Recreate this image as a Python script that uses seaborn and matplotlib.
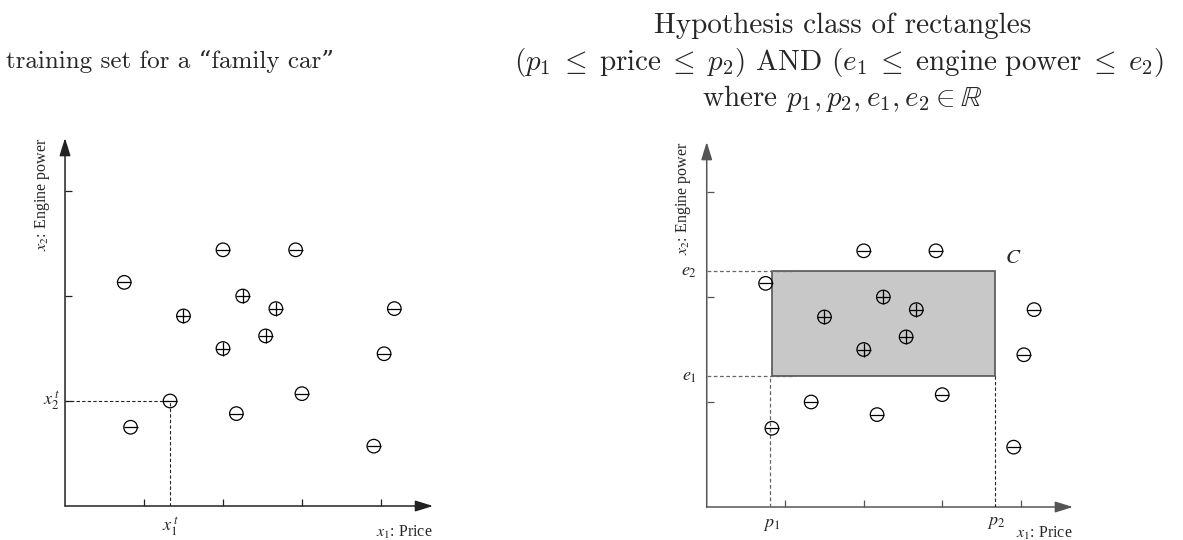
import matplotlib
matplotlib.use("Agg")
import matplotlib.pyplot as plt
from matplotlib.patches import Rectangle
import seaborn as sns

# Training instances (x1 = price, x2 = engine power), in tick units
neg_x = [2.00, 2.92, 0.75, 4.17, 4.04, 3.00, 1.33, 2.17, 0.83, 3.91]
neg_y = [2.44, 2.44, 2.13, 1.88, 1.45, 1.07, 1.00, 0.88, 0.75, 0.57]
pos_x = [1.50, 2.25, 2.67, 2.54, 2.00]
pos_y = [1.81, 2.00, 1.88, 1.62, 1.50]

# Highlighted instance (x1^t, x2^t)
inst_x, inst_y = 1.33, 1.00

# Hypothesis rectangle C
p1, p2 = 0.83, 3.67
e1, e2 = 1.245, 2.245

axis_ticks = [1, 2, 3, 4]
y_ticks = [1, 2, 3]

sns.set_theme(style="white")
plt.rcParams["font.family"] = ["Liberation Serif", "DejaVu Serif"]

fig = plt.figure(figsize=(11.83, 5.40), dpi=100)
ax_l = fig.add_axes([0.05495, 0.06296, 0.3111, 0.6815])
ax_r = fig.add_axes([0.5974, 0.0611, 0.3096, 0.6759])


def setup_axes(ax, xmax, ymax, color):
    ax.set_xlim(0, xmax)
    ax.set_ylim(0, ymax)
    for s in ax.spines.values():
        s.set_visible(False)
    ax.set_xticks(axis_ticks)
    ax.set_yticks(y_ticks)
    ax.set_xticklabels([])
    ax.set_yticklabels([])
    ax.tick_params(direction="in", length=5, width=0.9, color=color,
                   bottom=True, left=True, top=False, right=False)
    ax.grid(False)
    ax.set_facecolor("none")
    arrow = dict(arrowstyle="-|>,head_length=0.9,head_width=0.28",
                 color=color, lw=1.1, shrinkA=0, shrinkB=0)
    ax.annotate("", xy=(xmax, 0), xytext=(0, 0), arrowprops=arrow,
                annotation_clip=False)
    ax.annotate("", xy=(0, ymax), xytext=(0, 0), arrowprops=arrow,
                annotation_clip=False)
    ax.set_xlabel("")
    ax.set_ylabel("")


def draw_points(ax):
    size = 95
    lw = 0.9
    sns.scatterplot(x=neg_x, y=neg_y, marker="o", s=size, facecolor="none",
                    edgecolor="black", linewidth=lw, ax=ax, zorder=5)
    sns.scatterplot(x=neg_x, y=neg_y, marker="_", s=size, color="black",
                    linewidth=lw, ax=ax, zorder=5)
    sns.scatterplot(x=pos_x, y=pos_y, marker="o", s=size, facecolor="none",
                    edgecolor="black", linewidth=lw, ax=ax, zorder=5)
    sns.scatterplot(x=pos_x, y=pos_y, marker="+", s=size, color="black",
                    linewidth=lw, ax=ax, zorder=5)


label_kw = dict(fontsize=11.5, math_fontfamily="stix")
sym_kw = dict(fontsize=13, math_fontfamily="stix")

# ---- left panel: training set ----
setup_axes(ax_l, 4.66, 3.505, "#222222")
dash = (0, (3, 2))
ax_l.plot([0, inst_x], [inst_y, inst_y], color="#222222", lw=0.8, ls=dash)
ax_l.plot([inst_x, inst_x], [0, inst_y], color="#222222", lw=0.8, ls=dash)
draw_points(ax_l)
ax_l.text(inst_x, -0.09, r"$x_{\mathit{1}}^{\,t}$", ha="center", va="top", **sym_kw)
ax_l.text(-0.07, inst_y, r"$x_{\mathit{2}}^{\,t}$", ha="right", va="center", **sym_kw)
ax_l.text(4.66, -0.17, r"$x_{\mathit{1}}$: Price", ha="right", va="top", **label_kw)
ax_l.text(-0.28, 3.505, r"$x_{\mathit{2}}$: Engine power", ha="center", va="top",
          rotation=90, **label_kw)

# ---- right panel: hypothesis rectangle ----
grey = "#555555"
setup_axes(ax_r, 4.666, 3.476, grey)
ax_r.add_patch(Rectangle((p1, e1), p2 - p1, e2 - e1, facecolor="#c8c8c8",
                         edgecolor=grey, lw=1.2, zorder=2))
ax_r.plot([0, p1 + 0.3], [e2, e2], color="#666666", lw=0.9, ls=dash, zorder=3)
ax_r.plot([0, p1 + 0.3], [e1, e1], color="#666666", lw=0.9, ls=dash, zorder=3)
ax_r.plot([p1 - 0.02, p1 - 0.02], [0, e1], color="#666666", lw=0.9, ls=dash, zorder=3)
ax_r.plot([p2, p2], [0, e1], color="#222222", lw=0.8, ls=dash, zorder=3)
draw_points(ax_r)
ax_r.text(p1, -0.09, r"$p_{\mathit{1}}$", ha="center", va="top", **sym_kw)
ax_r.text(p2 + 0.02, -0.07, r"$p_{\mathit{2}}$", ha="center", va="top", **sym_kw)
ax_r.text(-0.12, e2, r"$e_{\mathit{2}}$", ha="right", va="center", **sym_kw)
ax_r.text(-0.12, e1, r"$e_{\mathit{1}}$", ha="right", va="center", **sym_kw)
ax_r.text(p2 + 0.13, e2 + 0.03, r"$C$", ha="left", va="bottom", fontsize=15,
          math_fontfamily="stix")
ax_r.text(4.666, -0.17, r"$x_{\mathit{1}}$: Price", ha="right", va="top", **label_kw)
ax_r.text(-0.3, 3.476, r"$x_{\mathit{2}}$: Engine power", ha="center", va="top",
          rotation=90, **label_kw)

# ---- titles ----
title_kw = dict(family=["cmr10", "DejaVu Serif"], math_fontfamily="cm",
                ha="center", va="baseline")
fig.text(170 / 1183, 1 - 68 / 540, "training set for a \u201cfamily car\u201d",
         fontsize=18, **title_kw)
fig.text(843 / 1183, 1 - 33 / 540, "Hypothesis class of rectangles",
         fontsize=21, **title_kw)
fig.text(839 / 1183, 1 - 70 / 540,
         r"$(p_1 \;\leq\; \mathrm{price} \;\leq\; p_2)$ AND "
         r"$(e_1 \;\leq\; \mathrm{engine\ power} \;\leq\; e_2)$",
         fontsize=21, **title_kw)
fig.text(842 / 1183, 1 - 106 / 540, r"where $p_1, p_2, e_1, e_2 \in \mathbb{R}$",
         fontsize=21, **title_kw)

fig.savefig("out.png", dpi=100, facecolor="white")
